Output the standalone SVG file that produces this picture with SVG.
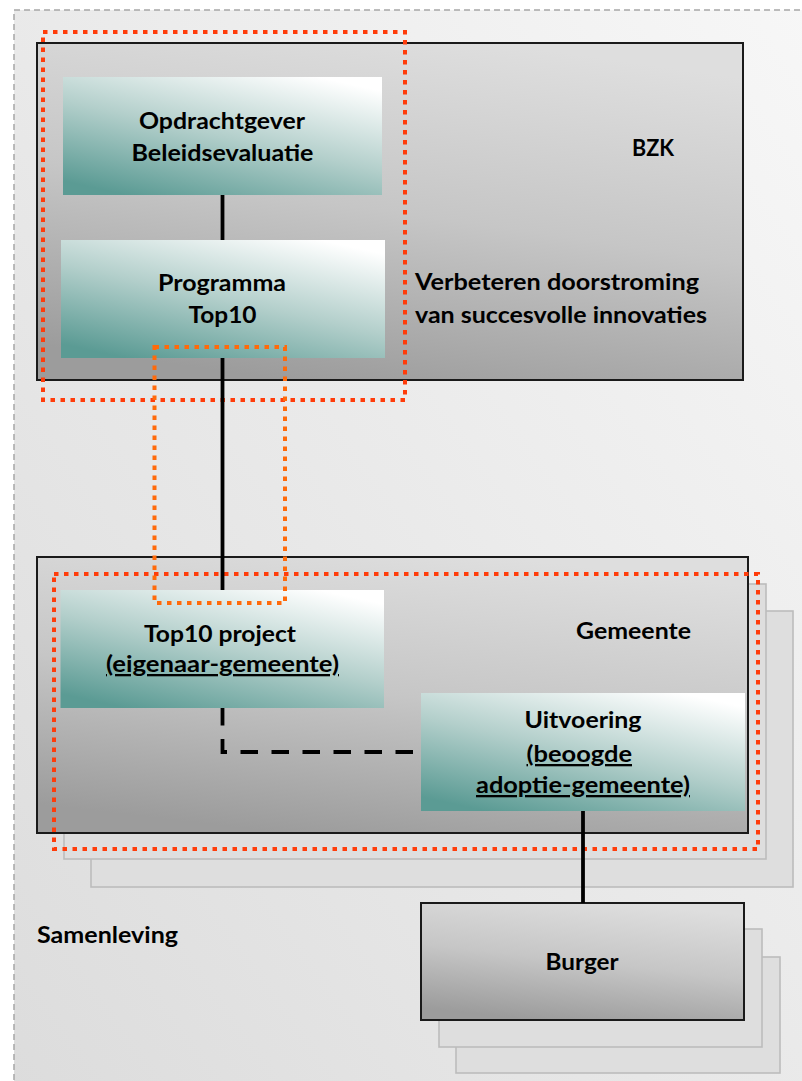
<svg xmlns="http://www.w3.org/2000/svg" width="802" height="1081" viewBox="0 0 802 1081">
<defs>
<linearGradient id="bgGrad" x1="1" y1="0" x2="0" y2="1">
<stop offset="0" stop-color="#f7f7f7"/>
<stop offset="1" stop-color="#dcdcdc"/>
</linearGradient>
<linearGradient id="grayGrad" x1="0.65" y1="0" x2="0.35" y2="1">
<stop offset="0" stop-color="#dedede"/>
<stop offset="0.5" stop-color="#c6c6c6"/>
<stop offset="1" stop-color="#9c9c9c"/>
</linearGradient>
<linearGradient id="tealGrad" x1="0.2" y1="1" x2="0.8" y2="0">
<stop offset="0" stop-color="#5b9b94"/>
<stop offset="0.5" stop-color="#b3cfcb"/>
<stop offset="1" stop-color="#ffffff"/>
</linearGradient>
<style>
.lbl{font-family:Lato,"Open Sans","Liberation Sans",sans-serif;font-weight:bold;font-size:23px;fill:#000}
.ul{text-decoration:underline}
.container{fill:url(#grayGrad);stroke:#1a1a1a;stroke-width:2}
.shadow{fill:#dedede;stroke:#bcbcbc;stroke-width:1.6}
.teal{fill:url(#tealGrad);stroke:none}
.dotRed{fill:none;stroke:#ff3c0a;stroke-width:4;stroke-dasharray:4.5 5.5}
.dotOrange{fill:none;stroke:#ff6a0a;stroke-width:4;stroke-dasharray:4.5 5.5}
.conn{fill:none;stroke:#000;stroke-width:3.8}
.connDash{fill:none;stroke:#000;stroke-width:3.8;stroke-dasharray:17.5 13.5}
</style>
</defs>

<g id="samenleving">
<rect x="14" y="10" width="800" height="1100" fill="url(#bgGrad)" stroke="#a6a6a6" stroke-width="1.5" stroke-dasharray="6 4"/>
<text class="lbl" x="37" y="943" textLength="141" lengthAdjust="spacingAndGlyphs">Samenleving</text>
</g>

<g id="bzk">
<rect class="container" x="37" y="43" width="706" height="337"/>
<text class="lbl" x="632" y="156" textLength="42" lengthAdjust="spacingAndGlyphs">BZK</text>
<text class="lbl" x="415" y="290" textLength="284" lengthAdjust="spacingAndGlyphs">Verbeteren doorstroming</text>
<text class="lbl" x="415" y="322.5" textLength="292" lengthAdjust="spacingAndGlyphs">van succesvolle innovaties</text>
</g>

<g id="opdrachtgever">
<rect class="teal" x="63" y="77" width="319" height="118"/>
<text class="lbl" x="139" y="129" textLength="166" lengthAdjust="spacingAndGlyphs">Opdrachtgever</text>
<text class="lbl" x="131.5" y="161" textLength="182" lengthAdjust="spacingAndGlyphs">Beleidsevaluatie</text>
</g>

<g id="programma">
<rect class="teal" x="61" y="240" width="324" height="118"/>
<text class="lbl" x="158" y="290.5" textLength="128" lengthAdjust="spacingAndGlyphs">Programma</text>
<text class="lbl" x="188.5" y="323" textLength="68" lengthAdjust="spacingAndGlyphs">Top10</text>
</g>

<g id="gemeente">
<rect class="shadow" x="91" y="611" width="702" height="276"/>
<rect class="shadow" x="64" y="584" width="702" height="275"/>
<rect class="container" x="37" y="557" width="711" height="276"/>
<text class="lbl" x="576" y="639" textLength="115" lengthAdjust="spacingAndGlyphs">Gemeente</text>
</g>

<g id="top10project">
<rect class="teal" x="60.5" y="590" width="323.5" height="118"/>
<text class="lbl" x="144" y="641.5" textLength="152" lengthAdjust="spacingAndGlyphs">Top10 project</text>
<text class="lbl ul" x="106" y="672" textLength="233" lengthAdjust="spacingAndGlyphs">(eigenaar-gemeente)</text>
</g>

<g id="uitvoering">
<rect class="teal" x="421" y="693" width="324" height="118"/>
<text class="lbl" x="524.5" y="728" textLength="117" lengthAdjust="spacingAndGlyphs">Uitvoering</text>
<text class="lbl ul" x="526.5" y="762" textLength="105.5" lengthAdjust="spacingAndGlyphs">(beoogde</text>
<text class="lbl ul" x="476" y="793" textLength="214" lengthAdjust="spacingAndGlyphs">adoptie-gemeente)</text>
</g>

<g id="burger">
<rect class="shadow" x="456" y="957" width="324" height="116"/>
<rect class="shadow" x="439" y="929" width="323" height="118"/>
<rect class="container" x="421" y="903" width="323" height="117"/>
<text class="lbl" x="545.5" y="970" textLength="73" lengthAdjust="spacingAndGlyphs">Burger</text>
</g>

<g id="highlights">
<rect class="dotRed" x="43" y="32" width="362" height="368"/>
<rect class="dotRed" x="54" y="574" width="704" height="275"/>
<rect class="dotOrange" x="154.5" y="347" width="130.5" height="256"/>
</g>

<g id="connectors">
<line class="conn" x1="222.5" y1="195" x2="222.5" y2="240"/>
<line class="conn" x1="222.5" y1="358" x2="222.5" y2="590"/>
<path class="connDash" d="M222.5,708 V752 H421"/>
<line class="conn" x1="583" y1="811" x2="583" y2="903"/>
</g>
</svg>
